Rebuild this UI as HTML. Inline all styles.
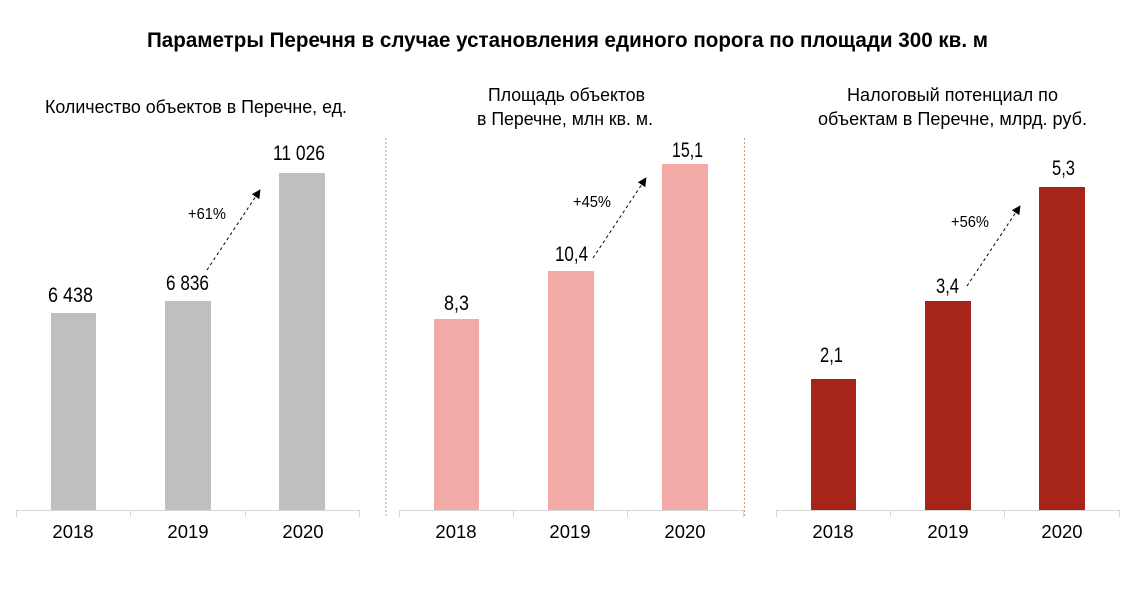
<!DOCTYPE html>
<html><head><meta charset="utf-8"><style>
html,body{margin:0;padding:0;background:#fff;}
svg{display:block;}
text{font-family:"Liberation Sans","Noto Sans CJK SC",sans-serif;fill:#000;}
</style></head><body>
<svg width="1130" height="595" viewBox="0 0 1130 595" xmlns="http://www.w3.org/2000/svg">
<defs>
<marker id="ah" viewBox="0 0 10 10" refX="9" refY="5" markerWidth="9" markerHeight="9" markerUnits="userSpaceOnUse" orient="auto">
<path d="M0,0 L10,5 L0,10 z" fill="#000"/>
</marker>
</defs>
<rect width="1130" height="595" fill="#fff"/>
<!-- Title -->
<text x="147" y="47" font-size="21" font-weight="bold" textLength="841" lengthAdjust="spacingAndGlyphs">Параметры Перечня в случае установления единого порога по площади 300 кв. м</text>
<!-- Subtitles -->
<text x="45" y="113" font-size="18" textLength="302" lengthAdjust="spacingAndGlyphs">Количество объектов в Перечне, ед.</text>
<text x="488" y="101" font-size="18" textLength="157" lengthAdjust="spacingAndGlyphs">Площадь объектов</text>
<text x="477" y="125" font-size="18" textLength="176" lengthAdjust="spacingAndGlyphs">в Перечне, млн кв. м.</text>
<text x="847" y="101" font-size="18" textLength="211" lengthAdjust="spacingAndGlyphs">Налоговый потенциал по</text>
<text x="818" y="125" font-size="18" textLength="269" lengthAdjust="spacingAndGlyphs">объектам в Перечне, млрд. руб.</text>
<!-- dotted separators -->
<line x1="386" y1="138" x2="386" y2="518" stroke="#c9a27a" stroke-width="1" stroke-dasharray="2,2"/>
<line x1="744.5" y1="138" x2="744.5" y2="518" stroke="#c9a27a" stroke-width="1" stroke-dasharray="2,2"/>

<!-- Chart 1 -->
<rect x="51" y="313" width="45" height="197" fill="#bfbfbf"/>
<rect x="165" y="301" width="46" height="209" fill="#bfbfbf"/>
<rect x="279" y="173" width="46" height="337" fill="#bfbfbf"/>
<g stroke="#d6d6d6" stroke-width="1">
<line x1="16" y1="510.5" x2="359" y2="510.5"/>
<line x1="16.5" y1="510" x2="16.5" y2="517"/>
<line x1="130.5" y1="510" x2="130.5" y2="517"/>
<line x1="245.5" y1="510" x2="245.5" y2="517"/>
<line x1="359.5" y1="510" x2="359.5" y2="517"/>
</g>
<text x="48" y="302" font-size="21" textLength="45" lengthAdjust="spacingAndGlyphs">6 438</text>
<text x="166" y="290" font-size="21" textLength="43" lengthAdjust="spacingAndGlyphs">6 836</text>
<text x="273" y="160" font-size="21" textLength="52" lengthAdjust="spacingAndGlyphs">11 026</text>
<text x="188" y="219" font-size="16" textLength="38" lengthAdjust="spacingAndGlyphs">+61%</text>
<line x1="207" y1="270" x2="260" y2="190" stroke="#000" stroke-width="1" stroke-dasharray="3,3" marker-end="url(#ah)"/>
<g font-size="18.5" text-anchor="middle">
<text x="73" y="538">2018</text>
<text x="188" y="538">2019</text>
<text x="303" y="538">2020</text>
</g>

<!-- Chart 2 -->
<rect x="434" y="319" width="45" height="191" fill="#f1aaa5"/>
<rect x="548" y="271" width="46" height="239" fill="#f1aaa5"/>
<rect x="662" y="164" width="46" height="346" fill="#f1aaa5"/>
<g stroke="#d6d6d6" stroke-width="1">
<line x1="399" y1="510.5" x2="743" y2="510.5"/>
<line x1="399.5" y1="510" x2="399.5" y2="517"/>
<line x1="513.5" y1="510" x2="513.5" y2="517"/>
<line x1="627.5" y1="510" x2="627.5" y2="517"/>
<line x1="743.5" y1="510" x2="743.5" y2="517"/>
</g>
<text x="444" y="310" font-size="21" textLength="25" lengthAdjust="spacingAndGlyphs">8,3</text>
<text x="555" y="261" font-size="21" textLength="33" lengthAdjust="spacingAndGlyphs">10,4</text>
<text x="672" y="157" font-size="21" textLength="31" lengthAdjust="spacingAndGlyphs">15,1</text>
<text x="573" y="207" font-size="16" textLength="38" lengthAdjust="spacingAndGlyphs">+45%</text>
<line x1="593" y1="258" x2="646" y2="178" stroke="#000" stroke-width="1" stroke-dasharray="3,3" marker-end="url(#ah)"/>
<g font-size="18.5" text-anchor="middle">
<text x="456" y="538">2018</text>
<text x="570" y="538">2019</text>
<text x="685" y="538">2020</text>
</g>

<!-- Chart 3 -->
<rect x="811" y="379" width="45" height="131" fill="#a6241a"/>
<rect x="925" y="301" width="46" height="209" fill="#a6241a"/>
<rect x="1039" y="187" width="46" height="323" fill="#a6241a"/>
<g stroke="#d6d6d6" stroke-width="1">
<line x1="776" y1="510.5" x2="1119" y2="510.5"/>
<line x1="776.5" y1="510" x2="776.5" y2="517"/>
<line x1="890.5" y1="510" x2="890.5" y2="517"/>
<line x1="1004.5" y1="510" x2="1004.5" y2="517"/>
<line x1="1119.5" y1="510" x2="1119.5" y2="517"/>
</g>
<text x="820" y="362" font-size="21" textLength="23" lengthAdjust="spacingAndGlyphs">2,1</text>
<text x="936" y="293" font-size="21" textLength="23" lengthAdjust="spacingAndGlyphs">3,4</text>
<text x="1052" y="175" font-size="21" textLength="23" lengthAdjust="spacingAndGlyphs">5,3</text>
<text x="951" y="227" font-size="16" textLength="38" lengthAdjust="spacingAndGlyphs">+56%</text>
<line x1="967" y1="286" x2="1020" y2="206" stroke="#000" stroke-width="1" stroke-dasharray="3,3" marker-end="url(#ah)"/>
<g font-size="18.5" text-anchor="middle">
<text x="833" y="538">2018</text>
<text x="948" y="538">2019</text>
<text x="1062" y="538">2020</text>
</g>
</svg>
</body></html>
